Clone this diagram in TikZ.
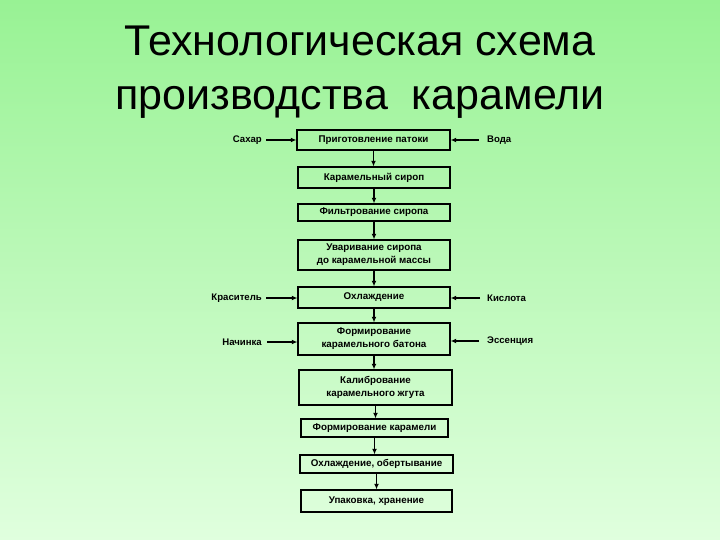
\documentclass[tikz,border=0pt]{standalone}
\usepackage{fontspec}
\setmainfont{Liberation Sans}
\usetikzlibrary{arrows.meta}
\definecolor{bgtop}{RGB}{152,242,148}
\definecolor{bgbot}{RGB}{224,255,222}
\begin{document}
\begin{tikzpicture}[x=1pt,y=-1pt,
  titletext/.style={font=\fontsize{43}{54}\selectfont, anchor=base, inner sep=0pt},
  stepbox/.style={draw=black, line width=1.4pt, rectangle, inner sep=0pt, align=center,
    font=\fontsize{9.8}{13}\selectfont\bfseries},
  sidelabel/.style={font=\fontsize{9.6}{11}\selectfont\bfseries, inner sep=0pt},
  arr/.style={line width=1.2pt, -{Latex[length=5.5pt,width=5pt]}}]
\useasboundingbox (0,0) rectangle (720,540);
\shade[top color=bgtop, bottom color=bgbot] (0,0) rectangle (720,540);
\node[titletext] (t1) at (360,56) {Технологическая схема};
\node[titletext] (t2) at (360,110) {производства\ \ карамели};
% boxes
\node[stepbox, minimum width=153pt, minimum height=20pt] (b1) at (373.5,140) {Приготовление патоки};
\node[stepbox, minimum width=152pt, minimum height=21pt] (b2) at (374,177.5) {Карамельный сироп};
\node[stepbox, minimum width=152pt, minimum height=17pt] (b3) at (374,212.5) {Фильтрование сиропа};
\node[stepbox, minimum width=152pt, minimum height=30pt] (b4) at (374,255) {Уваривание сиропа\\до карамельной массы};
\node[stepbox, minimum width=152pt, minimum height=21pt] (b5) at (374,297.5) {Охлаждение};
\node[stepbox, minimum width=152pt, minimum height=32pt] (b6) at (374,339) {Формирование\\карамельного батона};
\node[stepbox, minimum width=153pt, minimum height=35pt] (b7) at (375.5,387.5) {Калибрование\\карамельного жгута};
\node[stepbox, minimum width=147pt, minimum height=18pt] (b8) at (374.5,428) {Формирование карамели};
\node[stepbox, minimum width=153pt, minimum height=18pt] (b9) at (376.5,464) {Охлаждение, обертывание};
\node[stepbox, minimum width=151pt, minimum height=22pt] (b10) at (376.5,501) {Упаковка, хранение};
% vertical arrows
\draw[arr] (b1.south) -- (b1.south |- b2.north);
\draw[arr] (b2.south) -- (b2.south |- b3.north);
\draw[arr] (b3.south) -- (b3.south |- b4.north);
\draw[arr] (b4.south) -- (b4.south |- b5.north);
\draw[arr] (b5.south) -- (b5.south |- b6.north);
\draw[arr] (b6.south) -- (b6.south |- b7.north);
\draw[arr] (b7.south) -- (b7.south |- b8.north);
\draw[arr] (b8.south) -- (b8.south |- b9.north);
\draw[arr] (b9.south) -- (b9.south |- b10.north);
% side labels
\node[sidelabel, anchor=east] (sah) at (262,140) {Сахар};
\node[sidelabel, anchor=east] (kra) at (262,298) {Краситель};
\node[sidelabel, anchor=east] (nac) at (262,342) {Начинка};
\node[sidelabel, anchor=west] (vod) at (487,140) {Вода};
\node[sidelabel, anchor=west] (kis) at (487,298) {Кислота};
\node[sidelabel, anchor=west] (ess) at (487,341) {Эссенция};
\draw[arr] ([xshift=4pt]sah.east) -- (sah.east -| b1.west);
\draw[arr] ([xshift=4pt]kra.east) -- (kra.east -| b5.west);
\draw[arr] ([xshift=5pt]nac.east) -- (nac.east -| b6.west);
\draw[arr] ([xshift=-8pt]vod.west) -- (vod.west -| b1.east);
\draw[arr] ([xshift=-7pt]kis.west) -- (kis.west -| b5.east);
\draw[arr] ([xshift=-8pt]ess.west) -- (ess.west -| b6.east);
\end{tikzpicture}
\end{document}
